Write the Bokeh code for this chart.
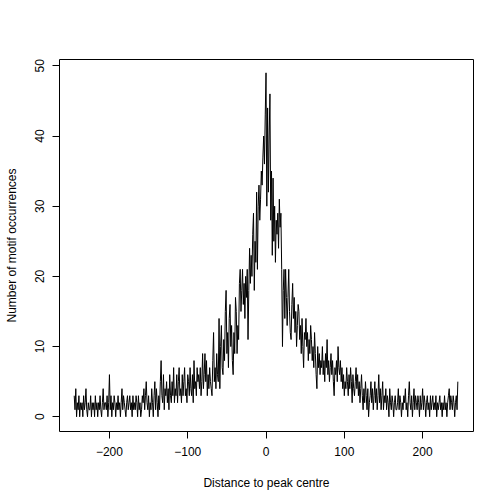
from bokeh.plotting import figure
from bokeh.models import Range1d, FixedTicker
from bokeh.embed import file_html
from bokeh.resources import INLINE

# Distance to peak centre (bp), one value per position
distance_start = -245
distance_end = 245

# Number of motif occurrences at each distance
counts = [
    3, 1, 4, 0, 2, 1, 3, 0, 2, 1,        # -245..-236
    2, 0, 3, 1, 2, 4, 1, 0, 2, 1,        # -235..-226
    1, 3, 0, 2, 1, 2, 0, 3, 1, 2,        # -225..-216
    0, 2, 1, 3, 1, 0, 2, 4, 1, 2,        # -215..-206
    2, 1, 3, 0, 2, 6, 1, 3, 0, 2,        # -205..-196
    1, 3, 2, 0, 2, 1, 3, 1, 2, 0,        # -195..-186
    2, 4, 1, 3, 2, 1, 0, 2, 3, 1,        # -185..-176
    2, 3, 1, 2, 0, 3, 1, 2, 1, 3,        # -175..-166
    2, 0, 3, 1, 2, 0, 1, 3, 2, 4,        # -165..-156
    1, 3, 5, 2, 1, 3, 0, 2, 1, 4,        # -155..-146
    2, 0, 3, 5, 1, 4, 2, 0, 3, 1,        # -145..-136
    5, 8, 3, 2, 6, 1, 4, 3, 5, 2,        # -135..-126
    4, 1, 6, 3, 2, 5, 3, 7, 2, 4,        # -125..-116
    3, 6, 2, 5, 7, 3, 4, 2, 6, 3,        # -115..-106
    5, 7, 3, 4, 2, 6, 5, 3, 7, 4,        # -105..-96
    3, 6, 2, 8, 4, 5, 3, 7, 5, 6,        # -95..-86
    4, 7, 3, 5, 9, 4, 6, 9, 5, 8,        # -85..-76
    3, 6, 4, 7, 5, 4, 3, 8, 12, 5,       # -75..-66
    7, 4, 9, 6, 5, 14, 4, 10, 13, 7,     # -65..-56
    6, 11, 8, 15, 18, 9, 12, 7, 14, 16,  # -55..-46
    10, 13, 8, 6, 12, 9, 17, 15, 9, 13,  # -45..-36
    11, 19, 21, 15, 18, 21, 16, 19, 14, 20,  # -35..-26
    17, 21, 11, 18, 24, 19, 23, 20, 26, 29,  # -25..-16
    18, 25, 22, 32, 21, 30, 33, 28, 31, 35,  # -15..-6
    33, 37, 40, 36, 43, 49, 30, 44, 32, 40,  # -5..4
    46, 28, 35, 23, 34, 25, 30, 22, 28, 26,  # 5..14
    29, 24, 31, 27, 29, 21, 10, 18, 21, 14,  # 15..24
    21, 17, 13, 17, 21, 15, 12, 11, 16, 19,  # 25..34
    14, 17, 12, 15, 10, 13, 16, 15, 11, 13,  # 35..44
    9, 14, 10, 7, 12, 11, 14, 10, 12, 8,     # 45..54
    11, 9, 13, 11, 8, 10, 7, 12, 9, 6,       # 55..64
    4, 10, 7, 9, 6, 8, 7, 10, 6, 8,          # 65..74
    5, 9, 7, 11, 6, 8, 5, 7, 9, 6,           # 75..84
    8, 5, 3, 7, 6, 8, 5, 10, 7, 6,           # 85..94
    8, 5, 7, 4, 6, 3, 5, 4, 7, 5,            # 95..104
    3, 6, 4, 7, 5, 2, 6, 4, 3, 5,            # 105..114
    7, 4, 6, 3, 5, 2, 4, 6, 3, 1,            # 115..124
    4, 2, 5, 3, 1, 4, 0, 2, 3, 5,            # 125..134
    2, 4, 1, 3, 5, 2, 4, 1, 3, 6,            # 135..144
    2, 4, 1, 3, 5, 1, 3, 2, 4, 1,            # 145..154
    3, 2, 0, 4, 2, 1, 3, 2, 0, 2,            # 155..164
    3, 1, 1, 2, 4, 1, 3, 2, 0, 2,            # 165..174
    1, 3, 2, 4, 1, 2, 0, 3, 5, 2,            # 175..184
    1, 3, 0, 2, 4, 1, 3, 2, 1, 3,            # 185..194
    2, 0, 3, 1, 2, 4, 1, 3, 2, 0,            # 195..204
    2, 3, 1, 2, 0, 3, 1, 2, 3, 1,            # 205..214
    2, 1, 3, 0, 2, 1, 2, 3, 1, 2,            # 215..224
    0, 2, 1, 3, 1, 2, 0, 2, 3, 4,            # 225..234
    1, 3, 2, 1, 3, 2, 0, 2, 3, 1,            # 235..244
    5,                                       # 245
]

distances = list(range(distance_start, distance_end + 1))
assert len(distances) == len(counts)

x_ticks = [-200, -100, 0, 100, 200]
x_tick_labels = {-200: "\u2212200", -100: "\u2212100", 0: "0", 100: "100", 200: "200"}
y_ticks = [0, 10, 20, 30, 40, 50]

FONT = "Liberation Sans"

p = figure(
    frame_width=414, frame_height=372,
    min_border_left=59, min_border_right=30,
    min_border_top=59, min_border_bottom=72,
    x_range=Range1d(-263.8, 265.0), y_range=Range1d(-2.1, 50.9),
    output_backend="svg", toolbar_location=None,
    background_fill_color="white", border_fill_color="white",
)

p.line(distances, counts, line_color="black", line_width=1)

p.xgrid.visible = False
p.ygrid.visible = False
p.outline_line_color = "black"
p.outline_line_width = 1
p.outline_line_alpha = 1

for ax in (p.xaxis[0], p.yaxis[0]):
    ax.axis_line_color = None
    ax.major_tick_in = 0
    ax.major_tick_out = 7
    ax.major_tick_line_color = "black"
    ax.minor_tick_line_color = None
    ax.major_label_text_font = FONT
    ax.major_label_text_font_size = "12px"
    ax.major_label_text_color = "black"
    ax.axis_label_text_font = FONT
    ax.axis_label_text_font_size = "12px"
    ax.axis_label_text_font_style = "normal"
    ax.axis_label_text_color = "black"

p.xaxis.ticker = FixedTicker(ticks=x_ticks)
p.xaxis.major_label_overrides = x_tick_labels
p.xaxis.axis_label = "Distance to peak centre"
p.xaxis.major_label_standoff = 8
p.xaxis.axis_label_standoff = 17

p.yaxis.ticker = FixedTicker(ticks=y_ticks)
p.yaxis.major_label_orientation = "vertical"
p.yaxis.axis_label = "Number of motif occurrences"
p.yaxis.major_label_standoff = 8
p.yaxis.axis_label_standoff = 14

open("out.html", "w").write(file_html(p, INLINE))
